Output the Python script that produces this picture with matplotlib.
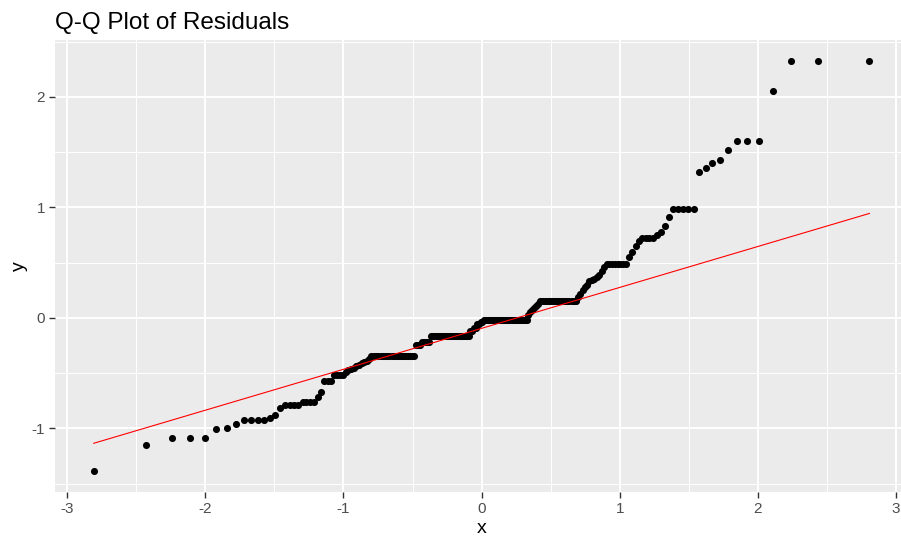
import numpy as np
import matplotlib
matplotlib.use("Agg")
import matplotlib.pyplot as plt
from statistics import NormalDist

# sorted residuals as (level, how many points sit on it)
resid_levels = [-1.39, -1.15, -1.085, -1.01, -1.00, -0.96, -0.925, -0.91, -0.88, -0.82,
                -0.79, -0.76, -0.72, -0.67, -0.57, -0.515,
                -0.49, -0.47, -0.46, -0.45, -0.44, -0.43, -0.41, -0.40, -0.39, -0.37,
                -0.345, -0.25, -0.22, -0.165, -0.12, -0.09, -0.06, -0.035, -0.015,
                0.03, 0.05, 0.07, 0.09, 0.11, 0.13,
                0.155,
                0.19, 0.22, 0.25, 0.28, 0.30, 0.33, 0.34, 0.35, 0.37, 0.385, 0.42, 0.46,
                0.49,
                0.55, 0.60, 0.65, 0.70,
                0.725,
                0.75, 0.78, 0.83, 0.91,
                0.99,
                1.32, 1.36, 1.40, 1.43, 1.52,
                1.60, 2.05, 2.33]
resid_counts = [1, 1, 3, 1, 1, 1, 4, 1, 1, 1, 4, 4, 1, 1, 3, 4,
                1, 1, 1, 1, 1, 1, 1, 1, 1, 1,
                21, 3, 5, 22, 2, 2, 2, 2, 25,
                1, 1, 1, 1, 1, 1,
                19,
                1, 1, 1, 1, 1, 1, 1, 1, 1, 1, 1, 1,
                8,
                1, 1, 1, 1,
                4,
                1, 1, 1, 1,
                5,
                1, 1, 1, 1, 1,
                3, 1, 3]

x_ticks = [-3, -2, -1, 0, 1, 2, 3]
y_ticks = [-1, 0, 1, 2]

sample = np.repeat(resid_levels, resid_counts)
n = len(sample)
nd = NormalDist()
theo = np.array([nd.inv_cdf((i - 0.5) / n) for i in range(1, n + 1)])

# qq line through the quartiles, as geom_qq_line does
q25, q75 = np.quantile(sample, [0.25, 0.75])
t25, t75 = nd.inv_cdf(0.25), nd.inv_cdf(0.75)
slope = (q75 - q25) / (t75 - t25)
icpt = q25 - slope * t25

plt.rcParams['font.family'] = ['Liberation Sans', 'DejaVu Sans']
plt.rcParams['axes.unicode_minus'] = False

fig = plt.figure(figsize=(9.01, 5.4), dpi=100)
# panel runs a little past the right edge, as in the original
ax = fig.add_axes([0.061, 0.089, 0.947, 0.837])
ax.set_facecolor('#EBEBEB')

xr = theo.max() - theo.min()
yr = sample.max() - sample.min()
ax.set_xlim(theo.min() - 0.05 * xr, theo.max() + 0.05 * xr)
ax.set_ylim(sample.min() - 0.05 * yr, sample.max() + 0.05 * yr)

ax.set_xticks(x_ticks)
ax.set_yticks(y_ticks)
ax.set_xticks(np.array(x_ticks[:-1]) + 0.5, minor=True)
ax.set_yticks([-1.5, -0.5, 0.5, 1.5, 2.5], minor=True)
ax.grid(which='major', color='white', lw=1.4)
ax.grid(which='minor', color='white', lw=0.7)
ax.set_axisbelow(True)
for s in ax.spines.values():
    s.set_visible(False)
ax.tick_params(which='major', length=4, width=1, color='#333333',
               labelcolor='#4D4D4D', labelsize=11, pad=3)
ax.tick_params(which='minor', length=0)

ax.scatter(theo, sample, s=26, color='black', lw=0, zorder=3)
xl = np.array([theo.min(), theo.max()])
ax.plot(xl, icpt + slope * xl, color='red', lw=0.8, zorder=4)

ax.set_xlabel('x', fontsize=14, labelpad=3)
ax.set_ylabel('y', fontsize=14, labelpad=3)
ax.set_title('Q-Q Plot of Residuals', fontsize=17.5, loc='left', pad=8)

fig.savefig('out.png', dpi=100)
